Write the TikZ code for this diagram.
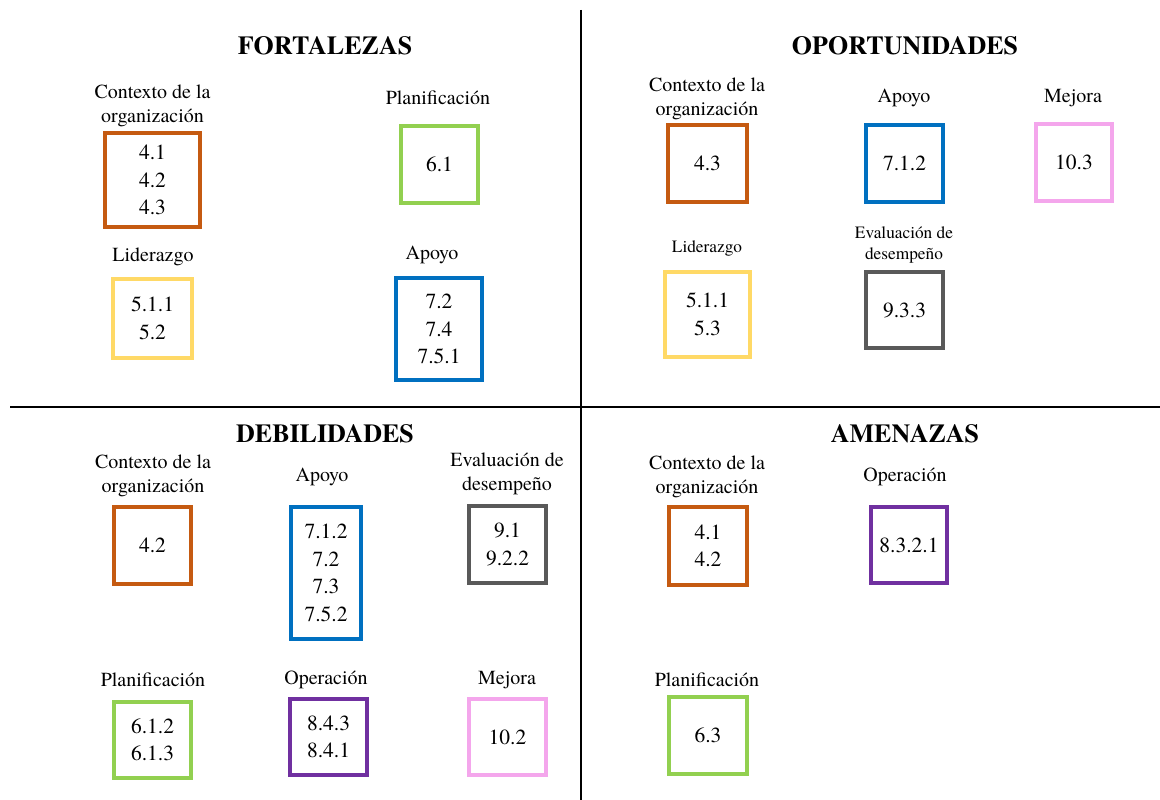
\documentclass[tikz,border=0pt]{standalone}
\usepackage{fontspec}
\IfFontExistsTF{texgyretermes-regular.otf}
  {\setmainfont{texgyretermes}[Extension=.otf,UprightFont=*-regular,BoldFont=*-bold,ItalicFont=*-italic,BoldItalicFont=*-bolditalic]}
  {\setmainfont{Liberation Serif}}
\definecolor{ctxc}{HTML}{C55A11}
\definecolor{planc}{HTML}{92D050}
\definecolor{lidc}{HTML}{FFD966}
\definecolor{apoc}{HTML}{0070C0}
\definecolor{mejc}{HTML}{F4A6EC}
\definecolor{evac}{HTML}{595959}
\definecolor{opec}{HTML}{7030A0}
\begin{document}
\begin{tikzpicture}[x=1pt,y=-1pt,
  ttl/.style={font=\rmfamily\fontsize{26}{30}\selectfont\bfseries, inner sep=0pt},
  lbl/.style={font=\rmfamily\fontsize{20}{24}\selectfont, align=center, inner sep=0pt},
  slbl/.style={font=\rmfamily\fontsize{17.3}{21}\selectfont, align=center, inner sep=0pt},
  box/.style={draw=#1, line width=4pt, inner sep=0pt, align=center,
    font=\rmfamily\fontsize{21.5}{27.5}\selectfont},
  divider/.style={line width=2pt, black}]
\fill[white] (0,0) rectangle (1160,800);
\useasboundingbox (0,0) rectangle (1160,800);

% quadrant dividers
\coordinate (vtop) at (581,10);
\coordinate (vbot) at (581,800);
\coordinate (hleft) at (10,407);
\coordinate (hright) at (1160,407);
\draw[divider] (vtop) -- (vbot);
\draw[divider] (hleft) -- (hright);

% quadrant titles
\node[ttl] (tfor) at (325,46) {FORTALEZAS};
\node[ttl] (topo) at (905,46) {OPORTUNIDADES};
\node[ttl] (tdeb) at (325,434) {DEBILIDADES};
\node[ttl] (tame) at (905,434) {AMENAZAS};

% ---- Fortalezas
\node[lbl] (lfctx) at (152.5,106) {Contexto de la\\organización};
\node[box=ctxc, minimum width=95, minimum height=94] (fctx) at (152.5,180) {4.1\\4.2\\4.3};
\node[lbl] (lfpla) at (438,98) {Planificación};
\node[box=planc, minimum width=77, minimum height=77] (fpla) at (439.5,164.5) {6.1};
\node[lbl] (lflid) at (153,257) {Liderazgo};
\node[box=lidc, minimum width=79, minimum height=79] (flid) at (152.5,318.5) {5.1.1\\5.2};
\node[lbl] (lfapo) at (432,255) {Apoyo};
\node[box=apoc, minimum width=86, minimum height=102] (fapo) at (439,329) {7.2\\7.4\\7.5.1};

% ---- Oportunidades
\node[lbl] (loctx) at (707,98.5) {Contexto de la\\organización};
\node[box=ctxc, minimum width=79, minimum height=77] (octx) at (707.5,163.5) {4.3};
\node[lbl] (loapo) at (904,98) {Apoyo};
\node[box=apoc, minimum width=77, minimum height=77] (oapo) at (904.5,163.5) {7.1.2};
\node[lbl] (lomej) at (1073,98) {Mejora};
\node[box=mejc, minimum width=76, minimum height=77] (omej) at (1074,162.5) {10.3};
\node[slbl] (lolid) at (707,248) {Liderazgo};
\node[box=lidc, minimum width=85, minimum height=85] (olid) at (707.5,314.5) {5.1.1\\5.3};
\node[slbl] (loeva) at (904,244.5) {Evaluación de\\desempeño};
\node[box=evac, minimum width=77, minimum height=76] (oeva) at (904.5,310) {9.3.3};

% ---- Debilidades
\node[lbl] (ldctx) at (153,476) {Contexto de la\\organización};
\node[box=ctxc, minimum width=77, minimum height=77] (dctx) at (152.5,545.5) {4.2};
\node[lbl] (ldapo) at (322,477) {Apoyo};
\node[box=apoc, minimum width=70, minimum height=132] (dapo) at (326,573) {7.1.2\\7.2\\7.3\\7.5.2};
\node[lbl] (ldeva) at (507,474) {Evaluación de\\desempeño};
\node[box=evac, minimum width=77, minimum height=77] (deva) at (507.5,544.5) {9.1\\9.2.2};
\node[lbl] (ldpla) at (153,680) {Planificación};
\node[box=planc, minimum width=77, minimum height=76] (dpla) at (152.5,740) {6.1.2\\6.1.3};
\node[lbl] (ldope) at (326,680) {Operación};
\node[box=opec, minimum width=77, minimum height=76] (dope) at (328.5,737) {8.4.3\\8.4.1};
\node[lbl] (ldmej) at (507,680) {Mejora};
\node[box=mejc, minimum width=77, minimum height=76] (dmej) at (507.5,737) {10.2};

% ---- Amenazas
\node[lbl] (lactx) at (707,476.5) {Contexto de la\\organización};
\node[box=ctxc, minimum width=78, minimum height=78] (actx) at (708,546) {4.1\\4.2};
\node[lbl] (laope) at (905,477) {Operación};
\node[box=opec, minimum width=76, minimum height=76] (aope) at (909,545) {8.3.2.1};
\node[lbl] (lapla) at (707,680) {Planificación};
\node[box=planc, minimum width=78, minimum height=77] (apla) at (708,735.5) {6.3};
\end{tikzpicture}
\end{document}
